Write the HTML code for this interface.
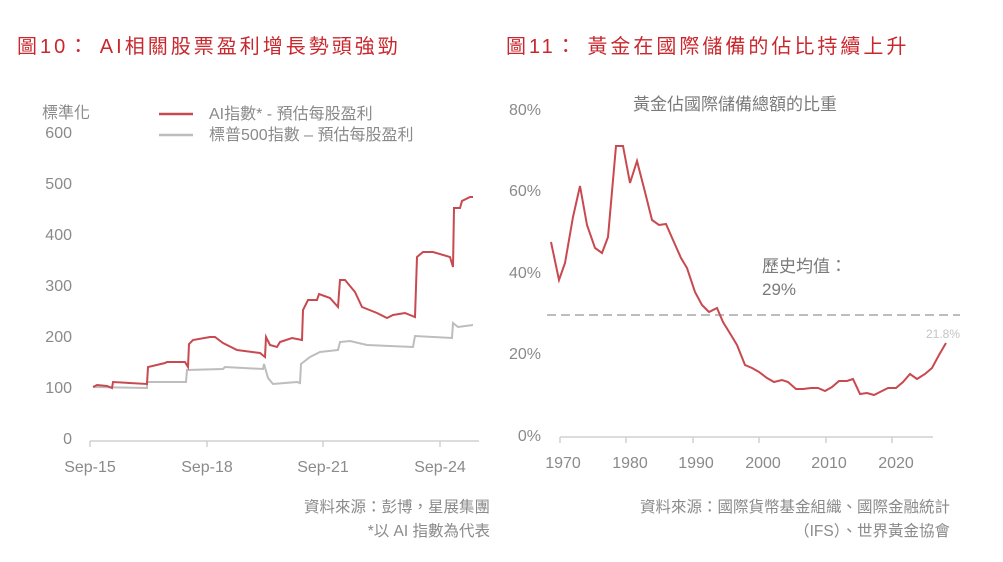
<!DOCTYPE html>
<html><head><meta charset="utf-8">
<style>
body{margin:0;background:#fff;width:1003px;height:562px;overflow:hidden}
svg{display:block}
text{font-family:"Liberation Sans","Noto Sans CJK TC",sans-serif}
</style></head><body>
<svg width="1003" height="562" viewBox="0 0 1003 562">
<text x="17" y="53" font-size="20" fill="#c8282d" letter-spacing="3">圖10： AI相關股票盈利增長勢頭強勁</text>
<text x="506" y="53" font-size="20" fill="#c8282d" letter-spacing="3">圖11： 黃金在國際儲備的佔比持續上升</text>

<!-- left chart -->
<g font-size="16" fill="#8a8a8a" text-anchor="end">
<text x="72" y="138">600</text><text x="72" y="189">500</text><text x="72" y="240">400</text>
<text x="72" y="291">300</text><text x="72" y="342">200</text><text x="72" y="393">100</text><text x="72" y="444">0</text>
</g>
<text x="42" y="118" font-size="16" fill="#8a8a8a">標準化</text>
<line x1="159" y1="114" x2="193" y2="114" stroke="#c8494f" stroke-width="2.5"/>
<line x1="159" y1="135" x2="193" y2="135" stroke="#bdbdbd" stroke-width="2.5"/>
<text x="209" y="119" font-size="16" fill="#8a8a8a">AI指數* - 預估每股盈利</text>
<text x="209" y="140" font-size="16" fill="#8a8a8a">標普500指數 – 預估每股盈利</text>
<line x1="90" y1="441" x2="479" y2="441" stroke="#d0d0d0" stroke-width="1.5"/>
<g stroke="#d0d0d0" stroke-width="1.5"><line x1="90" y1="441" x2="90" y2="447"/><line x1="207" y1="441" x2="207" y2="447"/><line x1="323" y1="441" x2="323" y2="447"/><line x1="440" y1="441" x2="440" y2="447"/></g>
<g font-size="16" fill="#8a8a8a" text-anchor="middle">
<text x="90" y="472">Sep-15</text><text x="207" y="472">Sep-18</text><text x="323" y="472">Sep-21</text><text x="440" y="472">Sep-24</text></g>
<polyline fill="none" stroke="#bdbdbd" stroke-width="2" points="93,387 147,388 147,382 186,382 187,370 223,369 225,367 263,369 264,364 268,378 273,384 297,382 300,383 301,364 310,357 320,352 338,350 340,342 350,341 367,345 413,347 415,336 452,338 453,323 458,327 473,325"/>
<polyline fill="none" stroke="#c8494f" stroke-width="2" points="93,387 97,385 107,386 112,388 113,382 147,384 148,367 165,363 167,362 185,362 188,367 189,344 193,340 210,337 215,337 223,343 237,350 260,353 265,357 266,337 270,345 277,347 280,342 292,338 302,340 303,310 308,300 317,300 319,294 330,298 338,307 340,280 345,280 355,292 362,307 377,313 387,318 393,315 405,313 415,317 417,257 423,252 433,252 450,257 453,267 454,208 460,208 462,201 470,197 473,197"/>
<text x="490" y="512" font-size="15.5" fill="#8a8a8a" text-anchor="end">資料來源：彭博，星展集團</text>
<text x="490" y="536" font-size="15.5" fill="#8a8a8a" text-anchor="end">*以 AI 指數為代表</text>

<!-- right chart -->
<text x="735" y="110" font-size="17" fill="#7a7a7a" text-anchor="middle">黃金佔國際儲備總額的比重</text>
<g font-size="16" fill="#8a8a8a" text-anchor="end">
<text x="541" y="115">80%</text><text x="541" y="196">60%</text><text x="541" y="278">40%</text>
<text x="541" y="359">20%</text><text x="541" y="441">0%</text></g>
<line x1="560" y1="437" x2="933" y2="437" stroke="#d0d0d0" stroke-width="1.5"/>
<g stroke="#d0d0d0" stroke-width="1.5"><line x1="560" y1="437" x2="560" y2="443"/><line x1="626" y1="437" x2="626" y2="443"/><line x1="693" y1="437" x2="693" y2="443"/><line x1="759" y1="437" x2="759" y2="443"/><line x1="826" y1="437" x2="826" y2="443"/><line x1="892" y1="437" x2="892" y2="443"/></g>
<g font-size="16" fill="#8a8a8a" text-anchor="middle">
<text x="563" y="468">1970</text><text x="630" y="468">1980</text><text x="696" y="468">1990</text><text x="763" y="468">2000</text><text x="829" y="468">2010</text><text x="896" y="468">2020</text></g>
<line x1="547" y1="315" x2="960" y2="315" stroke="#bdbdbd" stroke-width="2" stroke-dasharray="9,5"/>
<text x="762" y="272" font-size="17" fill="#7a7a7a">歷史均值：</text>
<text x="762" y="295" font-size="17" fill="#7a7a7a">29%</text>
<text x="960" y="338" font-size="12" fill="#c4c4c4" text-anchor="end">21.8%</text>
<polyline fill="none" stroke="#c8494f" stroke-width="2" points="551,242 559,280 565,263 573,217 580,186 587,225 595,248 602,253 608,237 616,146 623,146 630,183 637,161 645,192 652,220 659,225 666,224 673,240 681,258 687,268 695,292 702,305 709,312 717,308 723,322 731,335 737,345 745,365 752,368 759,372 767,378 774,382 782,380 788,382 796,389 803,389 811,388 818,388 825,391 832,387 839,381 847,381 853,379 860,394 867,393 874,395 882,391 888,388 896,388 903,382 910,374 917,379 925,374 932,368 939,355 946,343"/>
<text x="950" y="512" font-size="15.5" fill="#8a8a8a" text-anchor="end">資料來源：國際貨幣基金組織、國際金融統計</text>
<text x="950" y="536" font-size="15.5" fill="#8a8a8a" text-anchor="end">（IFS）、世界黃金協會</text>
</svg>
</body></html>
